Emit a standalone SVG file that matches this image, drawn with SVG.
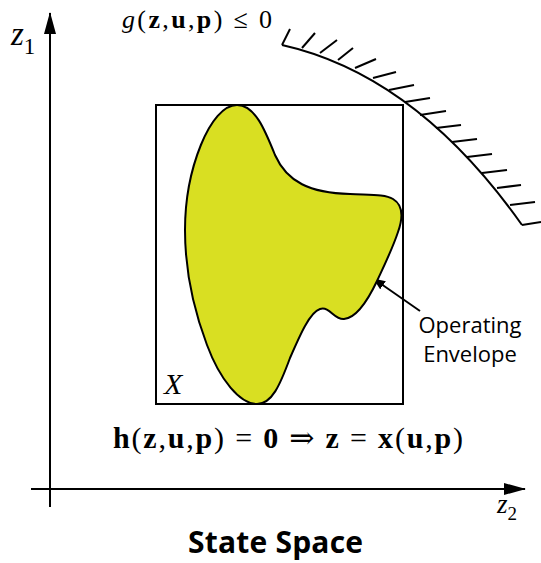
<svg xmlns="http://www.w3.org/2000/svg" width="541" height="563" viewBox="0 0 541 563">
<style>
.ln{stroke:#000;fill:none;stroke-width:2}
.math{font-family:"Liberation Serif","DejaVu Serif",serif;fill:#000}
.b{font-weight:bold}
.lab{font-family:"Open Sans","Liberation Sans",sans-serif;fill:#000}
</style>
<defs>
<marker id="ah" markerWidth="12" markerHeight="10" refX="11" refY="5" orient="auto" markerUnits="userSpaceOnUse">
<path d="M0,0 L12,5 L0,10 Z" fill="#000"/>
</marker>
<marker id="ax" markerWidth="22" markerHeight="12" refX="21" refY="6" orient="auto" markerUnits="userSpaceOnUse">
<path d="M0,0 L22,6 L0,12 Z" fill="#000"/>
</marker>
</defs>
<g id="connectors">
<line class="ln" x1="50" y1="507" x2="50" y2="13" marker-end="url(#ax)"/>
<line class="ln" x1="31" y1="489" x2="525" y2="489" marker-end="url(#ax)"/>
<line class="ln" x1="420" y1="311" x2="374" y2="279" marker-end="url(#ah)"/>
</g>
<g id="constraint">
<path class="ln" d="M282,45 Q416,75 522,225"/>
<g class="ln">
<line x1="282" y1="45" x2="290" y2="29"/>
<line x1="302" y1="48" x2="315" y2="33"/>
<line x1="320" y1="53" x2="337" y2="40"/>
<line x1="338" y1="60" x2="353" y2="48"/>
<line x1="355" y1="68" x2="376" y2="59"/>
<line x1="373" y1="78" x2="396" y2="72"/>
<line x1="389" y1="90" x2="414" y2="85"/>
<line x1="405" y1="102" x2="430" y2="98"/>
<line x1="420" y1="115" x2="446" y2="111"/>
<line x1="436" y1="128" x2="461" y2="125"/>
<line x1="452" y1="142" x2="477" y2="139"/>
<line x1="467" y1="157" x2="492" y2="154"/>
<line x1="482" y1="173" x2="507" y2="170"/>
<line x1="497" y1="188" x2="521" y2="185"/>
<line x1="510" y1="205" x2="535" y2="202"/>
<line x1="522" y1="225" x2="541" y2="222"/>
</g>
<text class="math" x="122" y="28" font-size="26" textLength="150" lengthAdjust="spacing"><tspan font-style="italic">g</tspan>(<tspan class="b">z</tspan>,<tspan class="b">u</tspan>,<tspan class="b">p</tspan>) ≤ 0</text>
</g>
<g id="setX">
<rect x="156" y="105" width="247" height="299" fill="none" stroke="#000" stroke-width="2"/>
<text class="math" x="164" y="394" font-size="30" font-style="italic">X</text>
</g>
<g id="envelope">
<path d="M237,105 C255,105 265,130 275,155 C287,182 310,193 350,194 C370,195 385,194 393,199 C403,205 403,218 398,232 C392,250 383,268 377,281 C368,300 357,318 344,319 C334,320 330,306 320,309 C310,312 300,335 290,358 C280,385 272,404 257,404 C240,404 220,380 207,345 C193,308 185,270 185,230 C185,170 210,105 237,105 Z" fill="#d9df22" stroke="#000" stroke-width="2"/>
</g>
<g id="envelope-label">
<text class="lab" x="470" y="333" font-size="22" text-anchor="middle">Operating</text>
<text class="lab" x="470" y="362" font-size="22" text-anchor="middle">Envelope</text>
</g>
<g id="axes-labels">
<text class="math" x="11" y="45" font-size="33" font-style="italic">z<tspan font-size="23" font-style="normal" dy="9">1</tspan></text>
<text class="math" x="497" y="513" font-size="27" font-style="italic">z<tspan font-size="19" font-style="normal" dy="7">2</tspan></text>
</g>
<g id="equation">
<text class="math" x="113" y="448" font-size="30" textLength="350" lengthAdjust="spacing"><tspan class="b">h</tspan>(<tspan class="b">z</tspan>,<tspan class="b">u</tspan>,<tspan class="b">p</tspan>) = <tspan class="b">0</tspan> ⇒ <tspan class="b">z</tspan> = <tspan class="b">x</tspan>(<tspan class="b">u</tspan>,<tspan class="b">p</tspan>)</text>
</g>
<g id="title">
<text class="lab" x="188" y="553" font-size="30" font-weight="bold" textLength="175">State Space</text>
</g>
</svg>
